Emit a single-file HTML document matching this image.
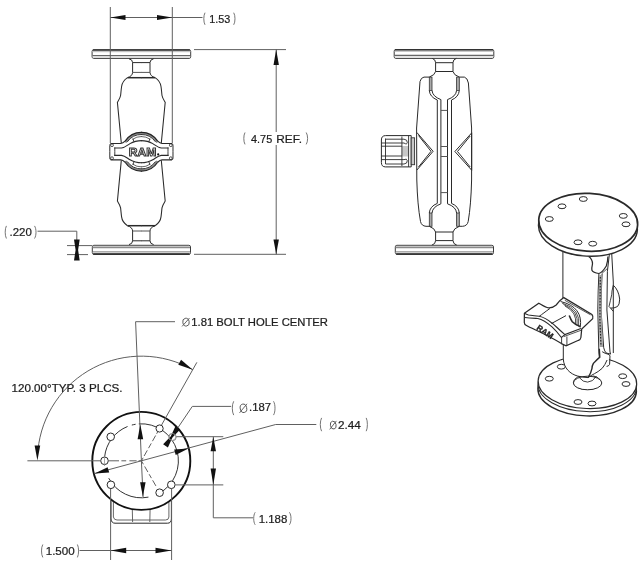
<!DOCTYPE html>
<html><head><meta charset="utf-8">
<style>
html,body{margin:0;padding:0;background:#fff;}
svg{display:block;will-change:transform;}
text{font-family:"Liberation Sans",sans-serif;fill:#1e1e1e;}
</style></head>
<body>
<svg width="640" height="563" viewBox="0 0 640 563">
<rect width="640" height="563" fill="#fff"/>

<!-- ============ FRONT VIEW ============ -->
<g id="front" fill="none" stroke="#2a2a2a" stroke-width="1">
  <!-- top plate -->
  <path d="M93.7,49.8 H189.1 Q190.7,49.8 190.7,51.4 V56.8 Q190.7,58.4 189.1,58.4 H93.7 Q92.1,58.4 92.1,56.8 V51.4 Q92.1,49.8 93.7,49.8 Z" stroke="#3a3a3a" stroke-width="1"/>
  <rect x="92.6" y="50.6" width="97.6" height="1.6" fill="#c4c4c4" stroke="none"/>
  <line x1="92.9" y1="50.0" x2="189.9" y2="50.0" stroke="#333" stroke-width="1.5"/>
  <line x1="92.6" y1="55.7" x2="190.2" y2="55.7" stroke="#666" stroke-width="1.2"/>
  <rect x="92.6" y="56.5" width="97.6" height="1.4" fill="#dcdcdc" stroke="none"/>
  <g>
    <path d="M129,58.8 Q132.6,59.5 132.6,62.6 V72.4 Q132.4,76.2 127.5,77.6" stroke-width="1"/>
    <line x1="132.6" y1="62.6" x2="141.5" y2="62.6"/>
    <line x1="132.6" y1="72.4" x2="141.5" y2="72.4" stroke="#555"/>
    <line x1="127.5" y1="77.7" x2="141.5" y2="77.7" stroke-width="1.5"/>
    <path d="M127.5,77.6 C124,80 122,83 121.6,86.5 C121.2,89 121,92 120.6,95.5 C120,98.5 118.5,100.5 117.4,102.3 L121.3,143" stroke-width="1.05"/>
  </g>
  <g transform="translate(282.6,0) scale(-1,1)">
    <path d="M129,58.8 Q132.6,59.5 132.6,62.6 V72.4 Q132.4,76.2 127.5,77.6" stroke-width="1"/>
    <line x1="132.6" y1="62.6" x2="141.5" y2="62.6"/>
    <line x1="132.6" y1="72.4" x2="141.5" y2="72.4" stroke="#555"/>
    <line x1="127.5" y1="77.7" x2="141.5" y2="77.7" stroke-width="1.5"/>
    <path d="M127.5,77.6 C124,80 122,83 121.6,86.5 C121.2,89 121,92 120.6,95.5 C120,98.5 118.5,100.5 117.4,102.3 L121.3,143" stroke-width="1.05"/>
  </g>
  <g transform="translate(0,303.4) scale(1,-1)">
    <path d="M129,58.8 Q132.6,59.5 132.6,62.6 V72.4 Q132.4,76.2 127.5,77.6" stroke-width="1"/>
    <line x1="132.6" y1="62.6" x2="141.5" y2="62.6"/>
    <line x1="132.6" y1="72.4" x2="141.5" y2="72.4" stroke="#555"/>
    <line x1="127.5" y1="77.7" x2="141.5" y2="77.7" stroke-width="1.5"/>
    <path d="M127.5,77.6 C124,80 122,83 121.6,86.5 C121.2,89 121,92 120.6,95.5 C120,98.5 118.5,100.5 117.4,102.3 L121.3,143" stroke-width="1.05"/>
  </g>
  <g transform="translate(282.6,303.4) scale(-1,-1)">
    <path d="M129,58.8 Q132.6,59.5 132.6,62.6 V72.4 Q132.4,76.2 127.5,77.6" stroke-width="1"/>
    <line x1="132.6" y1="62.6" x2="141.5" y2="62.6"/>
    <line x1="132.6" y1="72.4" x2="141.5" y2="72.4" stroke="#555"/>
    <line x1="127.5" y1="77.7" x2="141.5" y2="77.7" stroke-width="1.5"/>
    <path d="M127.5,77.6 C124,80 122,83 121.6,86.5 C121.2,89 121,92 120.6,95.5 C120,98.5 118.5,100.5 117.4,102.3 L121.3,143" stroke-width="1.05"/>
  </g>
  <!-- bottom plate -->
  <path d="M93.9,245.3 H188.9 Q190.5,245.3 190.5,246.9 V252.7 Q190.5,254.3 188.9,254.3 H93.9 Q92.3,254.3 92.3,252.7 V246.9 Q92.3,245.3 93.9,245.3 Z" stroke="#3a3a3a" stroke-width="1"/>
  <rect x="92.8" y="245.9" width="97.2" height="2.2" fill="#c4c4c4" stroke="none"/>
  <line x1="92.8" y1="247.7" x2="190.0" y2="247.7" stroke="#777" stroke-width="0.9"/>
  <line x1="92.8" y1="251.9" x2="190.0" y2="251.9" stroke="#777" stroke-width="1"/>
  <rect x="92.8" y="252.4" width="97.2" height="1.6" fill="#d0d0d0" stroke="none"/>
  <line x1="93.1" y1="254.1" x2="189.7" y2="254.1" stroke="#222" stroke-width="1.5"/>

  <!-- knob -->
  <g>
    <path d="M125.55,142.55 A18.3,18.3 0 0 1 141.8,133.4" stroke="#8a8a8a" stroke-width="1.9"/>
    <path d="M125.13,141.13 A19.4,19.4 0 0 1 141.8,132.3" stroke="#222" stroke-width="1.2"/>
    <path d="M127.31,141.83 A17.2,17.2 0 0 1 141.8,134.5" stroke="#333" stroke-width="1"/>
    <path d="M132.47,139.40 A15.2,15.2 0 0 1 141.8,136.5" stroke="#555" stroke-width="0.9"/>
    <path d="M110.8,143.5 H120.8 C122.4,143.4 123.6,142.6 125.13,141.13" stroke-width="1.15"/>
    <path d="M132.9,138.6 L134,141.8" stroke-width="0.9"/>
    <path d="M114.2,148 H121.5 C125,147.6 127,145.4 130,143.6 C133,141.8 136,140.6 141.8,140.6" stroke-width="1.1"/>
    <line x1="114.8" y1="147.5" x2="114.8" y2="151.7" stroke-width="0.9"/>
    <path d="M110.8,143.5 Q109.8,143.8 109.8,145.5 V151.7"/>
    <circle cx="112" cy="145.2" r="1.4" stroke-width="0.8"/>
  </g>
  <g transform="translate(282.8,0) scale(-1,1)">
    <path d="M125.55,142.55 A18.3,18.3 0 0 1 141.8,133.4" stroke="#8a8a8a" stroke-width="1.9"/>
    <path d="M125.13,141.13 A19.4,19.4 0 0 1 141.8,132.3" stroke="#222" stroke-width="1.2"/>
    <path d="M127.31,141.83 A17.2,17.2 0 0 1 141.8,134.5" stroke="#333" stroke-width="1"/>
    <path d="M132.47,139.40 A15.2,15.2 0 0 1 141.8,136.5" stroke="#555" stroke-width="0.9"/>
    <path d="M110.8,143.5 H120.8 C122.4,143.4 123.6,142.6 125.13,141.13" stroke-width="1.15"/>
    <path d="M132.9,138.6 L134,141.8" stroke-width="0.9"/>
    <path d="M114.2,148 H121.5 C125,147.6 127,145.4 130,143.6 C133,141.8 136,140.6 141.8,140.6" stroke-width="1.1"/>
    <line x1="114.8" y1="147.5" x2="114.8" y2="151.7" stroke-width="0.9"/>
    <path d="M110.8,143.5 Q109.8,143.8 109.8,145.5 V151.7"/>
    <circle cx="112" cy="145.2" r="1.4" stroke-width="0.8"/>
  </g>
  <g transform="translate(0,303.4) scale(1,-1)">
    <path d="M125.55,142.55 A18.3,18.3 0 0 1 141.8,133.4" stroke="#8a8a8a" stroke-width="1.9"/>
    <path d="M125.13,141.13 A19.4,19.4 0 0 1 141.8,132.3" stroke="#222" stroke-width="1.2"/>
    <path d="M127.31,141.83 A17.2,17.2 0 0 1 141.8,134.5" stroke="#333" stroke-width="1"/>
    <path d="M132.47,139.40 A15.2,15.2 0 0 1 141.8,136.5" stroke="#555" stroke-width="0.9"/>
    <path d="M110.8,143.5 H120.8 C122.4,143.4 123.6,142.6 125.13,141.13" stroke-width="1.15"/>
    <path d="M132.9,138.6 L134,141.8" stroke-width="0.9"/>
    <path d="M114.2,148 H121.5 C125,147.6 127,145.4 130,143.6 C133,141.8 136,140.6 141.8,140.6" stroke-width="1.1"/>
    <line x1="114.8" y1="147.5" x2="114.8" y2="151.7" stroke-width="0.9"/>
    <path d="M110.8,143.5 Q109.8,143.8 109.8,145.5 V151.7"/>
    <circle cx="112" cy="145.2" r="1.4" stroke-width="0.8"/>
  </g>
  <g transform="translate(282.8,303.4) scale(-1,-1)">
    <path d="M125.55,142.55 A18.3,18.3 0 0 1 141.8,133.4" stroke="#8a8a8a" stroke-width="1.9"/>
    <path d="M125.13,141.13 A19.4,19.4 0 0 1 141.8,132.3" stroke="#222" stroke-width="1.2"/>
    <path d="M127.31,141.83 A17.2,17.2 0 0 1 141.8,134.5" stroke="#333" stroke-width="1"/>
    <path d="M132.47,139.40 A15.2,15.2 0 0 1 141.8,136.5" stroke="#555" stroke-width="0.9"/>
    <path d="M110.8,143.5 H120.8 C122.4,143.4 123.6,142.6 125.13,141.13" stroke-width="1.15"/>
    <path d="M132.9,138.6 L134,141.8" stroke-width="0.9"/>
    <path d="M114.2,148 H121.5 C125,147.6 127,145.4 130,143.6 C133,141.8 136,140.6 141.8,140.6" stroke-width="1.1"/>
    <line x1="114.8" y1="147.5" x2="114.8" y2="151.7" stroke-width="0.9"/>
    <path d="M110.8,143.5 Q109.8,143.8 109.8,145.5 V151.7"/>
    <circle cx="112" cy="145.2" r="1.4" stroke-width="0.8"/>
  </g>
</g>
<text x="128.8" y="156.1" font-size="10.4" font-weight="bold" textLength="27.6" lengthAdjust="spacingAndGlyphs" fill="#fff" stroke="#333" stroke-width="0.85" style="fill:#fff">RAM</text>
<circle cx="158.2" cy="154.4" r="1.1" fill="#111"/>

<!-- front view dimensions -->
<g fill="none" stroke="#606060" stroke-width="1">
  <line x1="110.3" y1="7" x2="110.3" y2="143"/>
  <line x1="172.3" y1="7" x2="172.3" y2="143"/>
  <line x1="110.3" y1="17.5" x2="202.5" y2="17.5"/>
  <line x1="194" y1="49.6" x2="286" y2="49.6"/>
  <line x1="194" y1="254.3" x2="286" y2="254.3"/>
  <line x1="276.2" y1="49.6" x2="276.2" y2="132"/>
  <line x1="276.2" y1="145" x2="276.2" y2="254.3"/>
  <!-- .220 -->
  <polyline points="37.5,231.2 76.8,231.2 76.8,240"/>
  <line x1="67" y1="245.6" x2="92" y2="245.6"/>
  <line x1="67" y1="254.6" x2="88" y2="254.6"/>
</g>
<g fill="#111" stroke="none">
  <polygon points="110.3,17.5 125.5,15 125.5,20"/>
  <polygon points="172.3,17.5 157,15 157,20"/>
  <polygon points="276.2,49.6 273.5,65 278.9,65"/>
  <polygon points="276.2,254.3 273.5,239.5 278.9,239.5"/>
  <polygon points="74,239.4 79.7,239.4 78.1,250 79.7,260.6 74,260.6 75.6,250"/>
</g>


<!-- ============ SIDE VIEW ============ -->
<g id="side" fill="none" stroke="#2a2a2a" stroke-width="1">
  <!-- top plate -->
  <path d="M395.8,49.5 H492.2 Q493.8,49.5 493.8,51.1 V56.8 Q493.8,58.4 492.2,58.4 H395.8 Q394.2,58.4 394.2,56.8 V51.1 Q394.2,49.5 395.8,49.5 Z" stroke="#3a3a3a" stroke-width="1"/>
  <rect x="394.7" y="50.3" width="98.6" height="1.6" fill="#c4c4c4" stroke="none"/>
  <line x1="395.0" y1="49.7" x2="493.0" y2="49.7" stroke="#333" stroke-width="1.5"/>
  <line x1="394.7" y1="55.4" x2="493.3" y2="55.4" stroke="#666" stroke-width="1.2"/>
  <rect x="394.7" y="56.2" width="98.6" height="1.4" fill="#dcdcdc" stroke="none"/>
  <!-- top neck -->
  <path d="M432.3,58.4 Q435.6,59.5 435.6,62.7 V71.5 Q435,75 429.3,77.1"/>
  <path d="M456.3,58.4 Q453,59.5 453,62.7 V71.5 Q453.6,75 459.3,77.1"/>
  <line x1="435.6" y1="62.7" x2="453" y2="62.7"/>
  <line x1="435.6" y1="71.5" x2="453" y2="71.5"/>
  <!-- socket top edges -->
  <path d="M429.3,77.1 H424 Q421,77.5 420,81.5 L416.6,128"/>
  <path d="M459.3,77.1 H464.4 Q467.4,77.8 468.4,83 L471.6,128"/>
  <!-- strips -->
  <rect x="429.3" y="77.1" width="2.7" height="13.3" fill="#aaa" stroke="#333" stroke-width="0.8"/>
  <rect x="456.6" y="77.1" width="2.7" height="13.3" fill="#aaa" stroke="#333" stroke-width="0.8"/>
  <path d="M429.3,90.4 Q429.8,97 437.3,100"/>
  <path d="M432,90.4 Q432.5,96.5 440.9,99.6"/>
  <path d="M459.3,90.4 Q458.8,97 451.5,100"/>
  <path d="M456.6,90.4 Q456.1,96.5 447.5,99.6"/>
  <!-- channels -->
  <line x1="437.3" y1="100" x2="437.3" y2="203.4"/>
  <line x1="440.9" y1="99.6" x2="440.9" y2="203.8"/>
  <line x1="447.5" y1="99.6" x2="447.5" y2="203.8"/>
  <line x1="451.5" y1="100" x2="451.5" y2="203.4"/>
  <line x1="440.9" y1="110.4" x2="447.5" y2="110.4" stroke="#555"/>
  <line x1="440.9" y1="146.5" x2="447.5" y2="146.5" stroke="#555"/>
  <line x1="440.9" y1="156.5" x2="447.5" y2="156.5" stroke="#555"/>
  <line x1="440.9" y1="192.6" x2="447.5" y2="192.6" stroke="#555"/>
  <!-- bottom strips -->
  <rect x="429.3" y="213" width="2.7" height="13.3" fill="#aaa" stroke="#333" stroke-width="0.8"/>
  <rect x="456.6" y="213" width="2.7" height="13.3" fill="#aaa" stroke="#333" stroke-width="0.8"/>
  <path d="M429.3,213 Q429.8,206.4 437.3,203.4"/>
  <path d="M432,213 Q432.5,206.9 440.9,203.8"/>
  <path d="M459.3,213 Q458.8,206.4 451.5,203.4"/>
  <path d="M456.6,213 Q456.1,206.9 447.5,203.8"/>
  <!-- arm outer lower -->
  <path d="M416.6,128 L416.8,180 Q417.5,205 420.5,221.5 Q421.5,226 426,226.3 H429.3"/>
  <path d="M471.6,128 L471.6,180 Q471,205 468.2,221.5 Q467.2,226 462.6,226.3 H459.3"/>
  <!-- bottom neck -->
  <path d="M429.3,226.3 Q435,228.5 435.6,232 V240.6 Q435.6,244 431.8,245.2"/>
  <path d="M459.3,226.3 Q453.6,228.5 453,232 V240.6 Q453,244 456.8,245.2"/>
  <line x1="435.6" y1="232" x2="453" y2="232"/>
  <line x1="435.6" y1="240.6" x2="453" y2="240.6"/>
  <!-- bottom plate -->
  <path d="M396.9,245.3 H491.9 Q493.5,245.3 493.5,246.9 V252.6 Q493.5,254.2 491.9,254.2 H396.9 Q395.3,254.2 395.3,252.6 V246.9 Q395.3,245.3 396.9,245.3 Z" stroke="#3a3a3a" stroke-width="1"/>
  <rect x="395.8" y="245.9" width="97.2" height="2.2" fill="#c4c4c4" stroke="none"/>
  <line x1="395.8" y1="247.7" x2="493.0" y2="247.7" stroke="#777" stroke-width="0.9"/>
  <line x1="395.8" y1="251.9" x2="493.0" y2="251.9" stroke="#777" stroke-width="1"/>
  <rect x="395.8" y="252.4" width="97.2" height="1.6" fill="#d0d0d0" stroke="none"/>
  <line x1="396.1" y1="254.0" x2="492.7" y2="254.0" stroke="#222" stroke-width="1.5"/>
  <!-- triangles -->
  <path d="M416.9,132.5 L433.1,151.3 L416.9,170"/>
  <path d="M418.5,135.5 L431,151.3 L418.5,167"/>
  <path d="M471.7,132.9 L454.9,151.5 L471.7,170.2 Z"/>
  <path d="M470.2,136 L457.5,151.5 L470.2,167"/>
  <!-- side knob -->
  <path d="M411.2,135.6 H385.6 Q381.4,135.6 381.4,140 V162.5 Q381.4,166.9 385.6,166.9 H411.2 Z"/>
  <rect x="401.9" y="146" width="6.7" height="10.5" fill="#c8c8c8" stroke="none"/>
  <rect x="411.2" y="137.8" width="3.4" height="26.9" fill="#c8c8c8" stroke="#333" stroke-width="0.9"/>
  <line x1="385.5" y1="138.5" x2="385.5" y2="164" stroke-width="0.9"/>
  <line x1="401.9" y1="136.5" x2="401.9" y2="166" stroke-width="0.9"/>
  <line x1="408.6" y1="135.6" x2="408.6" y2="166.9" stroke-width="0.9"/>
  <path d="M385.5,139.2 H404 Q407.5,139.5 407.3,142.5 Q407,145 404,143 H381.4" stroke-width="0.9"/>
  <line x1="381.4" y1="146.2" x2="401.9" y2="146.2" stroke-width="0.9"/>
  <path d="M385.5,164 H404 Q407.5,163.7 407.3,160.7 Q407,158.2 404,159.6 H381.4" stroke-width="0.9"/>
  <line x1="381.4" y1="156" x2="401.9" y2="156" stroke-width="0.9"/>
</g>


<!-- ============ BOTTOM VIEW ============ -->
<g id="bottom" fill="none" stroke="#2a2a2a" stroke-width="1">
  <!-- stem below circle -->
  <path d="M111,492 V519 Q111.5,523.2 115,523.2 H167.5 Q171.2,523.2 171.4,519 V492" stroke-width="1"/>
  <path d="M113.4,498 V517 Q114,520 117,520 H165.5 Q168.8,520 168.9,517 V498" stroke="#555" stroke-width="0.9"/>
  <line x1="132.2" y1="505" x2="132.6" y2="522" stroke="#555" stroke-width="0.9"/>
  <line x1="150.2" y1="505" x2="149.8" y2="522" stroke="#555" stroke-width="0.9"/>
  <!-- outer circle -->
  <circle cx="141.3" cy="460.9" r="49" fill="#fff" stroke="#111" stroke-width="1.9"/>
  <path d="M104.60,456.93 A37,37 0 0 1 127.54,426.49 M131.82,425.06 A37,37 0 0 1 135.61,424.26 M138.82,423.89 A37,37 0 0 1 158.77,493.47 M148.46,497.12 A37,37 0 0 1 108.73,478.17" stroke="#333"/>
  <!-- holes -->
  <circle cx="104.5" cy="460.8" r="3.8" fill="#fff"/>
  <circle cx="110.7" cy="436.8" r="3.8" fill="#fff"/>
  <circle cx="159.6" cy="428.5" r="3.6" fill="#fff"/>
  <circle cx="172.6" cy="437" r="3.6" fill="#fff" stroke="#777"/>
  <circle cx="110.9" cy="484.8" r="3.8" fill="#fff"/>
  <circle cx="171.3" cy="484.8" r="3.8" fill="#fff"/>
  <circle cx="159.6" cy="492.7" r="3.8" fill="#fff"/>
  <line x1="104.5" y1="455.5" x2="104.5" y2="466" stroke="#888" stroke-width="0.7"/>
</g>
<g fill="none" stroke="#606060" stroke-width="1">
  <polyline points="175,321.7 135.6,321.7 141.4,460.8 143.1,497"/>
  <line x1="27.4" y1="460.8" x2="100.7" y2="460.8"/>
  <path d="M108.4,460.8 H119 M121.4,460.8 H126.2 M129.4,460.8 H136.6 M138.6,460.8 H141.4"/>
  <path d="M141.40,460.80 L143.12,457.75 M144.10,456.01 L147.29,450.35 M148.52,448.17 L151.22,443.38 M152.45,441.20 L155.64,435.53 M156.62,433.79 L157.85,431.61"/>
  <path d="M161.38,425.34 L196.87,362.35"/>
  <path d="M141.40,460.80 L143.40,464.26 M144.65,466.43 L147.90,472.06 M149.15,474.22 L151.40,478.12 M152.65,480.29 L155.90,485.91"/>
  <path d="M37.96,450.00 A104,104 0 0 1 192.75,369.67"/>
  <polyline points="94.6,473.5 141.4,460.8 275.7,424.5 316.3,424.5"/>
  <path d="M177.80,427.90 L192.3,406.4 H231.2"/>
  <line x1="176.3" y1="436.7" x2="223.3" y2="436.7"/>
  <line x1="175.3" y1="484.9" x2="223.3" y2="484.9"/>
  <polyline points="213.3,436.7 213.3,517.8 253,517.8"/>
  <line x1="110.6" y1="489" x2="110.6" y2="560"/>
  <line x1="171.6" y1="489" x2="171.6" y2="560"/>
  <line x1="79.5" y1="550.5" x2="171.6" y2="550.5"/>
</g>
<g fill="#111" stroke="none">
  <polygon points="140.3,424.2 137.6,439.2 143.2,439.2"/>
  <polygon points="142.9,496.8 140.1,482.3 145.6,482.3"/>
  <polygon points="192.75,369.67 178.31,364.75 181.05,359.87"/>
  <polygon points="37.4,460.5 34.6,445.5 40.2,445.5"/>
  <polygon points="94.6,473.5 107.6,467.2 109.2,472.6"/>
  <polygon points="188.4,448.4 174.2,449.6 175.7,455"/>
  <polygon points="180.19,429.54 172.47,437.42 167.89,447.44 163.11,444.16 170.83,436.28 175.41,426.26"/><circle cx="172.2" cy="436.9" r="3.5" fill="none" stroke="#aaa" stroke-width="0.8"/>
  <polygon points="213.3,436.7 210.6,451.3 216,451.3"/>
  <polygon points="213.3,484.9 210.6,468.6 216,468.6"/>
  <polygon points="110.6,550.5 126.2,547.8 126.2,553.2"/>
  <polygon points="171.6,550.5 155.5,547.8 155.5,553.2"/>
</g>

<!-- ============ ISO VIEW ============ -->
<g id="iso" fill="none" stroke="#2a2a2a" stroke-width="1">
  <!-- bottom plate -->
  <g transform="rotate(2 587.4 382.5)">
    <ellipse cx="587.4" cy="389.9" rx="49.3" ry="26" fill="#fff" stroke-width="1.4"/>
    <ellipse cx="587.4" cy="385.6" rx="49.3" ry="26" fill="#fff" stroke-width="1"/>
    <ellipse cx="587.4" cy="382.5" rx="49.3" ry="26" fill="#fff" stroke-width="1.2"/>
  </g>
  <ellipse cx="561.3" cy="366.7" rx="4" ry="2.4"/>
  <ellipse cx="549.3" cy="378.7" rx="4" ry="2.4"/>
  <ellipse cx="622.7" cy="376.2" rx="4" ry="2.4"/>
  <ellipse cx="626" cy="384" rx="4" ry="2.4"/>
  <ellipse cx="578" cy="402" rx="4" ry="2.4"/>
  <ellipse cx="592" cy="403.5" rx="4" ry="2.4"/>
  <!-- ball base -->
  <ellipse cx="587.2" cy="382.3" rx="13.8" ry="7.2"/>
  <!-- arm fill -->
  <path d="M562.9,250 V360 C563.5,368 570,375 588.1,377.6 Q598,374 607,366 L610,356 L613.3,353 L613.3,282 L611.7,250 Z" fill="#fff" stroke="none"/>
  <ellipse cx="587.6" cy="383" rx="14.2" ry="6.8" fill="#fff"/>
  <path d="M579.3,377.6 Q583,382.3 587.6,382.1 Q593,382 596.4,376.1" stroke-width="0.9"/>
  <!-- arm lines -->
  <line x1="562.9" y1="252" x2="562.9" y2="299"/>
  <path d="M563.3,345 V359 C563.8,368 570,374 577.8,376.1 Q583,377.4 588.1,377.6"/>
  <path d="M599.3,348.8 L599.8,357.1 Q597,359.5 593.4,363.4 Q592,366 592,368.3 Q591,373 588.1,377.6" stroke-width="1.4"/>
  <path d="M607.1,360 Q605,365 602.2,368.3 Q598,372 594.4,373.7 Q591,375.5 588.1,377.6"/>
  <path d="M602.2,351.7 Q605,353.5 608.1,354.2 L610,355.6 L609.6,364.4 Q608.5,366.4 606.6,366.4"/>
  <!-- strip -->
  <path d="M598.9,273.5 Q598,290 597.8,310 L598.9,353 L599.3,357"/>
  <path d="M602.1,273.5 Q601.2,290 601,310 L603.7,347.7 Q604.5,351.5 606.3,353 L610.6,354.1"/>
  <path d="M599.2,275 Q598.6,290 598.5,310 L599.6,347 L603,347 L601.6,310 Q601.6,290 601.9,275 Z" fill="#a0a0a0" stroke="none"/>
  <path d="M600.3,277 L599.9,320 L601,346" stroke="#222" stroke-width="1.1" stroke-dasharray="1.5 1.5"/>
  <path d="M609.5,253.2 L607.4,271.3 L606.9,310 L610,352 L610.6,354.1"/>
  <path d="M602.1,273.2 L607.4,268.5" stroke-width="0.8"/>
  <path d="M611.7,253.2 L613.3,282 V353"/>
  <!-- notch -->
  <path d="M588.7,256.4 Q592.5,259 592.5,263.9 Q591.5,268.5 591.9,270.3 Q593,272.9 598.9,273.5 Q602,273 606.3,266 Q607.9,261 607.9,256.4" stroke-width="1.25"/>
  <!-- bump -->
  <path d="M613.3,285.2 Q618.6,290 619.7,299.1 Q619.5,305 617.5,306.5 Q614,308.5 610.6,308.1 L613.3,311.4"/>
  <path d="M613.3,285.2 Q611.5,292 611.7,294.8 Q610.5,300 609,306.5 L610.6,308.1" stroke-width="0.9"/>
  <!-- top plate -->
  <g transform="rotate(3 588.2 222.3)">
    <ellipse cx="588.2" cy="227.3" rx="49.5" ry="28.9" fill="#fff" stroke-width="1.4"/>
    <ellipse cx="588.2" cy="222.3" rx="49.5" ry="28.9" fill="#fff" stroke-width="1.7"/>
  </g>
  <ellipse cx="583.3" cy="199" rx="4" ry="2.4"/>
  <ellipse cx="562" cy="206.3" rx="4" ry="2.4"/>
  <ellipse cx="549.3" cy="219" rx="4" ry="2.4"/>
  <ellipse cx="623.3" cy="215.9" rx="4" ry="2.4"/>
  <ellipse cx="626" cy="224.3" rx="4" ry="2.4"/>
  <ellipse cx="578" cy="242.3" rx="4" ry="2.4"/>
  <ellipse cx="592.7" cy="243.7" rx="4" ry="2.4"/>
  <!-- knob -->
  <path d="M524.4,313.3 L538.8,303.2 C542,305 545.5,307.6 548.4,307.8 C551.5,308 554.5,306.5 556.2,305 L559.8,300.7 L563.8,297.6 L591.9,314.5 Q593.5,316.5 592.7,318.6 L581.7,329.1 L580.9,337.5 Q580.6,339.5 578.5,340.3 L566.1,345.9 L561.4,343.6 C556,340 549,336.5 543,333.5 C537,330.5 530,327.5 526.5,325.5 Q524.3,324.5 524.3,322.5 Z" fill="#fff" stroke-width="1.25"/>
  <path d="M564.8,300.3 L590.5,314.8" stroke-width="0.8"/>
  <path d="M560.6,301.5 Q583.5,307 580.2,327.5" stroke-width="1"/>
  <path d="M562,303 Q581.5,309 578.6,326.5" stroke="#333" stroke-width="0.85"/>
  <path d="M563.5,304.5 Q579.5,311 577,325.5" stroke="#333" stroke-width="0.85"/>
  <path d="M565,306 Q577.5,312.5 575.4,324.5" stroke="#333" stroke-width="0.85"/>
  <path d="M569.2,315.5 Q571,320 572.3,321.7 Q575,324.5 580.2,326.4" stroke-width="1.6"/>
  <path d="M524.4,313.3 Q526.5,314.5 528.5,315 C533,315.5 537,316 539.2,316.3 C543,317 547,319 552.8,323.7 C556,326.5 559,329.5 564.9,334.6 L580.9,328.4" stroke-width="1.1"/>
  <path d="M563.8,336.6 L581,330.3" stroke-width="0.8"/>
  <path d="M524.8,317.5 C530,318 535,318.3 537.8,318.5 C542,319.5 547,322.5 552,326.8 C555.5,330 558.5,333.5 561.4,337.5 L564.9,334.6" stroke-width="1.1"/>
  <path d="M561.6,337.7 V343.6 M566.9,336.5 V345.5" stroke-width="0.9"/>
  <path d="M539.2,316.3 C542,314.5 545.5,311.5 549.9,308.5"/>
  <path d="M551.5,323.5 L566,315.6"/>
</g>
<text transform="translate(536,329) rotate(34)" font-size="8" font-weight="bold" fill="#333" stroke="#222" stroke-width="0.3">RAM</text>

<!-- ============ TEXT ============ -->
<g fill="none" stroke="#666" stroke-width="0.9">
  <path d="M205.00,12.70 C203.40,15.36 203.40,22.14 205.00,24.80"/>
  <path d="M233.70,12.70 C235.43,15.36 235.43,22.14 233.70,24.80"/>
  <path d="M245.00,132.50 C243.40,135.12 243.40,141.78 245.00,144.40"/>
  <path d="M306.20,132.50 C308.07,135.12 308.07,141.78 306.20,144.40"/>
  <path d="M6.40,225.90 C4.80,228.67 4.80,235.73 6.40,238.50"/>
  <path d="M34.50,225.90 C36.50,228.67 36.50,235.73 34.50,238.50"/>
  <path d="M233.70,401.30 C231.83,404.34 231.83,412.06 233.70,415.10"/>
  <path d="M273.50,401.30 C275.50,404.34 275.50,412.06 273.50,415.10"/>
  <path d="M321.60,417.90 C319.87,420.83 319.87,428.27 321.60,431.20"/>
  <path d="M366.20,417.90 C367.80,420.83 367.80,428.27 366.20,431.20"/>
  <path d="M255.20,512.30 C253.20,515.05 253.20,522.05 255.20,524.80"/>
  <path d="M289.40,512.30 C291.53,515.05 291.53,522.05 289.40,524.80"/>
  <path d="M42.80,544.50 C41.07,547.34 41.07,554.56 42.80,557.40"/>
  <path d="M77.40,544.50 C79.00,547.34 79.00,554.56 77.40,557.40"/>
</g>
<g fill="none" stroke="#555" stroke-width="0.9">
  <ellipse cx="186.00" cy="322.20" rx="3.20" ry="3.90" transform="rotate(-12 185.80 322.20)"/><line x1="182.10" y1="326.40" x2="189.50" y2="318.00"/>
  <ellipse cx="243.45" cy="408.35" rx="3.25" ry="4.25" transform="rotate(-12 243.25 408.35)"/><line x1="239.50" y1="412.90" x2="247.00" y2="403.80"/>
  <ellipse cx="333.25" cy="425.15" rx="2.85" ry="3.95" transform="rotate(-12 333.05 425.15)"/><line x1="329.70" y1="429.40" x2="336.40" y2="420.90"/>
</g>

<g fill="#1c1c1c" stroke="#1c1c1c" stroke-width="0.22">
  <text x="209.2" y="22.5" font-size="11" textLength="21.0" lengthAdjust="spacingAndGlyphs">1.53</text>
  <text x="251" y="142.75" font-size="11" textLength="21.2" lengthAdjust="spacingAndGlyphs">4.75</text>
  <text x="276.3" y="142.75" font-size="11" textLength="25.7" lengthAdjust="spacingAndGlyphs">REF.</text>
  <text x="9.5" y="235.7" font-size="11" textLength="22.3" lengthAdjust="spacingAndGlyphs">.220</text>
  <text x="191.3" y="325.5" font-size="10.6" textLength="136.7" lengthAdjust="spacingAndGlyphs">1.81 BOLT HOLE CENTER</text>
  <text x="11.5" y="391.5" font-size="10.6" textLength="111" lengthAdjust="spacingAndGlyphs">120.00&#176;TYP. 3 PLCS.</text>
  <text x="249" y="411.4" font-size="10.6" textLength="22" lengthAdjust="spacingAndGlyphs">.187</text>
  <text x="338.1" y="428.6" font-size="10.6" textLength="22.8" lengthAdjust="spacingAndGlyphs">2.44</text>
  <text x="258.7" y="522.5" font-size="11" textLength="28.6" lengthAdjust="spacingAndGlyphs">1.188</text>
  <text x="45.7" y="555.1" font-size="11" textLength="29" lengthAdjust="spacingAndGlyphs">1.500</text>
</g>

</svg>
</body></html>
